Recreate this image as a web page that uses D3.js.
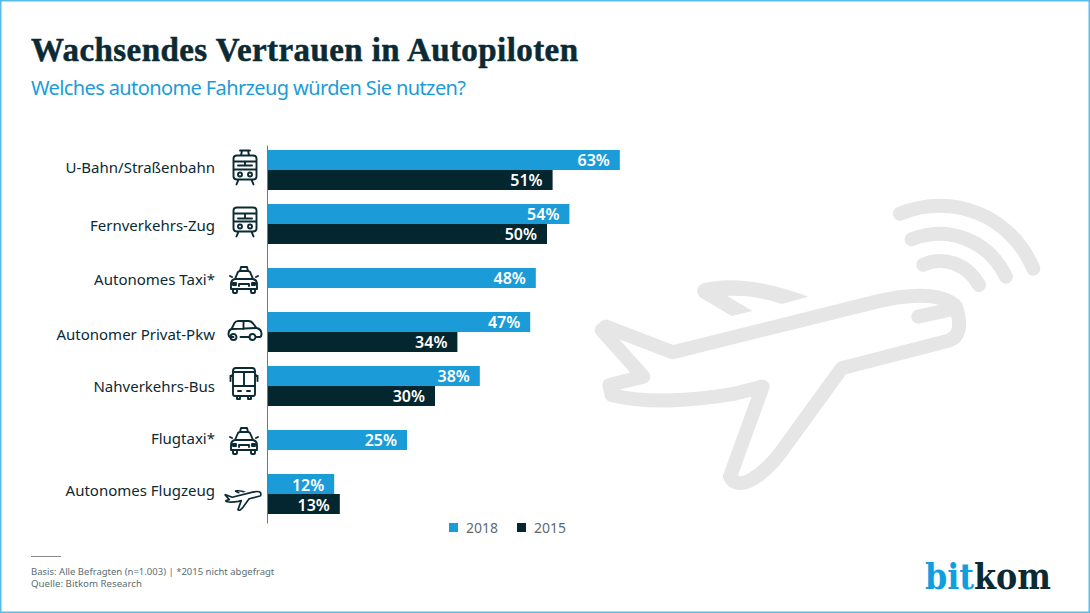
<!DOCTYPE html>
<html>
<head>
<meta charset="utf-8">
<script src="https://cdn.jsdelivr.net/npm/d3@7"></script>
<style>
  html, body { margin: 0; padding: 0; background: #fff; }
  svg { display: block; font-family: "Noto Sans", sans-serif; }
</style>
</head>
<body>
<div id="vis"></div>
<script>
const categories = ["U-Bahn/Straßenbahn", "Fernverkehrs-Zug", "Autonomes Taxi*", "Autonomer Privat-Pkw",
                    "Nahverkehrs-Bus", "Flugtaxi*", "Autonomes Flugzeug"];
const values2018 = [63, 54, 48, 47, 38, 25, 12];
const values2015 = [51, 50, null, 34, 30, null, 13];
const seriesNames = ["2018", "2015"];
const seriesColors = ["#1b9cd8", "#04262f"];
const iconNames = ["tram", "train", "taxi", "car", "bus", "taxi", "plane"];

const dark = "#0b2a33";
const blue = "#1b9cd8";
const w = 1090, h = 613;

const svg = d3.select("#vis").append("svg").attr("width", w).attr("height", h);

// frame
svg.append("rect").attr("x", 0.75).attr("y", 0.75).attr("width", w - 1.5).attr("height", h - 1.5)
   .attr("fill", "#fff").attr("stroke", "#58bde8").attr("stroke-width", 1.5);

// plane outline, drawn in a 1380x930 box
const planeBody = "M48,410 L248,487 L860,335 C930,318 1050,300 1098,350 C1112,395 1115,440 1075,452 L755,535 L570,790 C520,855 445,910 420,860 L518,590 L430,612 C300,635 160,640 65,615 L58,585 L160,560 L35,420 Z";
const planeWing = "M655,320 C560,285 440,255 340,280 C318,288 318,312 330,322 L425,378 L487,363 L412,318 C470,315 525,325 575,342 Z";
const planeNose = "M985,380 L1090,357";

// background icon
const bg = svg.append("g").attr("transform", "translate(590,190) scale(0.3333)");
bg.append("path").attr("d", planeBody).attr("fill", "none").attr("stroke", "#e6e6e6")
  .attr("stroke-width", 42).attr("stroke-linejoin", "round");
bg.append("path").attr("d", planeWing).attr("fill", "#e6e6e6");
bg.append("path").attr("d", planeNose).attr("fill", "none").attr("stroke", "#e6e6e6")
  .attr("stroke-width", 42).attr("stroke-linecap", "round");
["M930,71 C1090,5 1265,80 1330,236", "M965,148 C1075,105 1195,150 1248,260", "M1000,224 C1060,198 1130,220 1167,285"]
  .forEach(d => {
    bg.append("path").attr("d", d).attr("fill", "none").attr("stroke", "#e6e6e6")
      .attr("stroke-width", 42).attr("stroke-linecap", "round");
  });

// title
svg.append("text").attr("x", 31).attr("y", 61).text("Wachsendes Vertrauen in Autopiloten")
   .attr("font-family", "'Liberation Serif', serif").attr("font-weight", 700).attr("font-size", 33)
   .attr("textLength", 547).attr("lengthAdjust", "spacing")
   .attr("fill", dark).attr("stroke", dark).attr("stroke-width", 0.5);
svg.append("text").attr("x", 31).attr("y", 95).text("Welches autonome Fahrzeug würden Sie nutzen?")
   .attr("font-size", 20).attr("textLength", 435).attr("lengthAdjust", "spacing").attr("fill", blue);

// scales
const xScale = d3.scaleLinear().domain([0, 100]).range([267, 827]);
const yScale = d3.scaleBand().domain(categories).range([145, 523])
                 .paddingInner(0.2593).paddingOuter(0.1296).align(0.357);
const inner = d3.scaleBand().domain(seriesNames).range([0, yScale.bandwidth()]);

// bars
categories.forEach(function(c, i) {
    const vals = [values2018[i], values2015[i]];
    const both = vals[1] !== null;
    vals.forEach(function(v, s) {
        if (v === null) return;
        const top = yScale(c) + (both ? inner(seriesNames[s]) : inner.bandwidth() / 2);
        svg.append("rect").attr("x", xScale(0)).attr("y", top)
           .attr("width", xScale(v) - xScale(0)).attr("height", inner.bandwidth())
           .attr("fill", seriesColors[s]);
        svg.append("text").attr("x", xScale(v) - 10).attr("y", top + inner.bandwidth() / 2 + 6.5)
           .attr("text-anchor", "end").attr("font-size", 16).attr("font-weight", 600)
           .attr("fill", "#fff").text(v + "%");
    });
});

// axis
const labelShift = [0, 4, 4.5, 5, 3, 1, -1];
const axis = svg.append("g").attr("transform", "translate(267,0)")
                .call(d3.axisLeft(yScale).tickSize(0).tickPadding(52));
axis.select(".domain").attr("stroke", "#777").attr("stroke-width", 1);
axis.selectAll("text").attr("font-family", "'Noto Sans', sans-serif").attr("font-size", 15)
    .attr("fill", dark).attr("dy", "0.2em")
    .attr("y", (d, i) => labelShift[i]);

// category icons, each in a box centred on 0,0
function lineIcon(g, d) {
    g.append("path").attr("d", d).attr("fill", "none").attr("stroke", dark)
     .attr("stroke-width", 1.9).attr("stroke-linecap", "round").attr("stroke-linejoin", "round");
}
const icons = {
    tram: g => {
        lineIcon(g, "M-11.5,-9 Q-11.5,-12 -8,-12 L8,-12 Q11.5,-12 11.5,-9 L11.5,9 Q11.5,12 8,12 L-8,12 Q-11.5,12 -11.5,9 Z M-11.5,-6 L11.5,-6 M-11.5,2 L11.5,2 M0,-6 L0,-2 M-7,-2 L7,-2 M-7,13.5 L-8.5,17 M7,13.5 L8.5,17 M-5,-17 L5,-17 M-3,-17 L-4,-12 M3,-17 L4,-12");
        lineIcon(g, "M-5,7 m-2,0 a2,2 0 1,0 4,0 a2,2 0 1,0 -4,0 M5,7 m-2,0 a2,2 0 1,0 4,0 a2,2 0 1,0 -4,0");
    },
    train: g => {
        lineIcon(g, "M-11.5,-11 Q-11.5,-14 -8,-14 L8,-14 Q11.5,-14 11.5,-11 L11.5,7 Q11.5,10 8,10 L-8,10 Q-11.5,10 -11.5,7 Z M-11.5,-8 L11.5,-8 M-11.5,0 L11.5,0 M0,-8 L0,-3 M-7,-3 L7,-3 M-7,11.5 L-8.5,15 M7,11.5 L8.5,15");
        lineIcon(g, "M-5,5 m-2,0 a2,2 0 1,0 4,0 a2,2 0 1,0 -4,0 M5,5 m-2,0 a2,2 0 1,0 4,0 a2,2 0 1,0 -4,0");
    },
    taxi: g => {
        lineIcon(g, "M-4,-9 L-3,-13 L3,-13 L4,-9 M-9,-1 L-6,-8 Q-5.5,-9 -4,-9 L4,-9 Q5.5,-9 6,-8 L9,-1 M-9,-1 Q-13,0 -13,4 L-13,9 L13,9 L13,4 Q13,0 9,-1 Z M-5,6 L-5,4 L5,4 L5,6 M-11,9 L-11,12 Q-11,13 -10,13 L-8,13 Q-7,13 -7,12 L-7,9 M7,9 L7,12 Q7,13 8,13 L10,13 Q11,13 11,12 L11,9 M-14,-4 L-12,-3 M14,-4 L12,-3 M-11,3 L-8,3 L-8,5 L-11,5 Z M11,3 L8,3 L8,5 L11,5 Z");
    },
    car: g => {
        lineIcon(g, "M-11,6 L-14,6 Q-16,6 -16,3 Q-16,-1 -13,-2 L-10,-8 Q-9,-10 -6,-10 L4,-10 Q7,-10 9,-7 L12,-3 Q17,-2 17,3 Q17,6 15,6 L12,6 M-4,6 L5,6 M-12,-2 L12,-3 M-1,-10 L-1,-2");
        lineIcon(g, "M-11,6 m-3,0 a3,3 0 1,0 6,0 a3,3 0 1,0 -6,0 M8,6 m-3,0 a3,3 0 1,0 6,0 a3,3 0 1,0 -6,0");
    },
    bus: g => {
        lineIcon(g, "M-11,-12 Q-11,-15 -8,-15 L8,-15 Q11,-15 11,-12 L11,11 Q11,13 9,13 L-9,13 Q-11,13 -11,11 Z M-11,-11 L11,-11 M-11,3 L11,3 M0,-11 L0,3 M-11,-8 L-13.5,-7 L-13.5,-2 M11,-8 L13.5,-7 L13.5,-2 M-6,8 L-3,8 M3,8 L6,8 M-7,13 L-7,16 L-4,16 L-4,13 M4,13 L4,16 L7,16 L7,13");
    },
    plane: g => {
        const p = g.append("g").attr("transform", "translate(-19,-14) scale(0.0333)");
        p.append("path").attr("d", planeBody).attr("fill", "none").attr("stroke", dark).attr("stroke-width", 50).attr("stroke-linejoin", "round");
        p.append("path").attr("d", planeWing).attr("fill", dark);
    }
};
const iconCentres = [245, 245, 244, 244.5, 244, 244, 243];
const iconOffsets = [-0.5, -0.5, 4, 1, -1, 3, 3];
categories.forEach(function(c, i) {
    const g = svg.append("g").attr("transform",
        "translate(" + iconCentres[i] + "," + (yScale(c) + yScale.bandwidth() / 2 + iconOffsets[i] - 2) + ")");
    icons[iconNames[i]](g);
});

// legend
const legendX = [449, 517];
seriesNames.forEach(function(name, i) {
    svg.append("rect").attr("x", legendX[i]).attr("y", 523).attr("width", 9).attr("height", 9).attr("fill", seriesColors[i]);
    svg.append("text").attr("x", legendX[i] + 17).attr("y", 533).attr("font-size", 14).attr("fill", "#5a6d73").text(name);
});

// footer
svg.append("line").attr("x1", 31).attr("x2", 61).attr("y1", 556.5).attr("y2", 556.5).attr("stroke", "#8a8a8a");
svg.append("text").attr("x", 31).attr("y", 575).attr("font-size", 9.5).attr("fill", "#5a6d73")
   .text("Basis: Alle Befragten (n=1.003) | *2015 nicht abgefragt");
svg.append("text").attr("x", 31).attr("y", 587).attr("font-size", 9.7).attr("fill", "#5a6d73")
   .text("Quelle: Bitkom Research");

// logo
const logo = svg.append("text").attr("x", 925).attr("y", 589).attr("font-family", "'DejaVu Serif', serif")
   .attr("font-weight", 700).attr("font-size", 35).attr("textLength", 126).attr("lengthAdjust", "spacingAndGlyphs");
logo.append("tspan").attr("fill", "#0f9fe0").text("bit");
logo.append("tspan").attr("fill", dark).text("kom");
</script>
</body>
</html>
